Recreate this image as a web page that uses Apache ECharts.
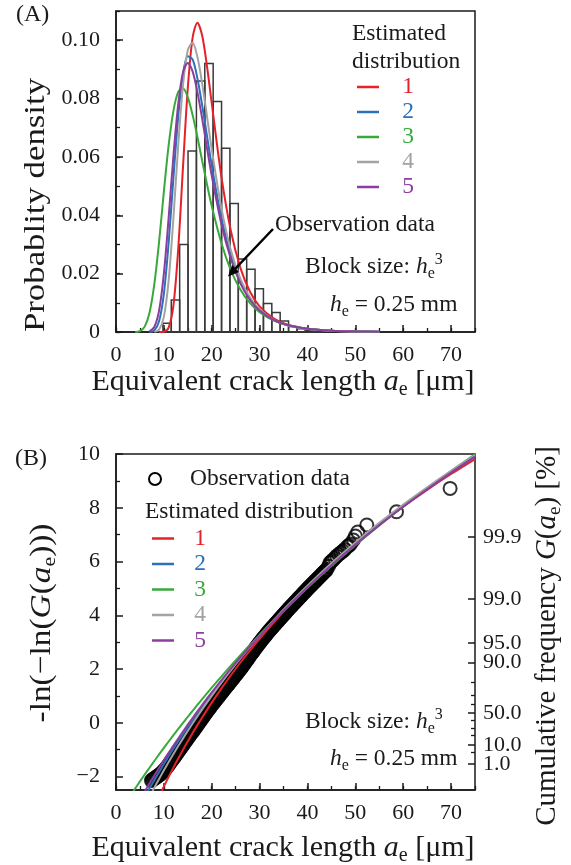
<!DOCTYPE html>
<html>
<head>
<meta charset="utf-8">
<script src="https://cdn.jsdelivr.net/npm/echarts@6/dist/echarts.min.js"></script>
<style>
  html, body { margin: 0; padding: 0; background: #fff; }
  #chart { width: 571px; height: 865px; }
</style>
</head>
<body>
<div id="chart"></div>
<script>
var FONT = 'Liberation Serif';
var INK = '#1a1a1a';

// (A) histogram of observed equivalent crack length: left bin edge and density
var histLeft = [9.8, 11.55, 13.3, 15.05, 16.8, 18.55, 20.3, 22.05, 23.8, 25.55, 27.3, 29.05, 30.8, 32.55, 34.3, 36.05, 37.8, 39.55, 41.3];
var histWidth = 1.75;
var histDensity = [0.003, 0.011, 0.030, 0.062, 0.086, 0.092, 0.079, 0.063, 0.044, 0.025, 0.0215, 0.0148, 0.0098, 0.0067, 0.0038, 0.0019, 0.0011, 0.0006, 0.0003];

// (A) estimated probability densities 1..5, read at pdfX
var pdfX = [4, 5, 6, 7, 8, 9, 10, 11, 12, 13, 14, 15, 16, 17, 18, 19, 20, 22, 24, 26, 28, 30, 33, 36, 40, 45, 50, 55];
var pdf1 = [null, null, null, null, null, 0.0000, 0.0001, 0.0015, 0.0091, 0.0285, 0.0566, 0.0836, 0.1008, 0.1060, 0.1016, 0.0912, 0.0784, 0.0534, 0.0346, 0.0219, 0.0138, 0.0088, 0.0046, 0.0024, 0.0011, 0.00045, 0.00019, 0.00009];
var pdf2 = [null, null, null, 0.00004, 0.00057, 0.0037, 0.0131, 0.0306, 0.0529, 0.0738, 0.0883, 0.0945, 0.0934, 0.0870, 0.0777, 0.0673, 0.0571, 0.0393, 0.0263, 0.0174, 0.0114, 0.0076, 0.0041, 0.0023, 0.0011, 0.00045, 0.0002, 0.00009];
var pdf3 = [0.00003, 0.00033, 0.00185, 0.0066, 0.0163, 0.0309, 0.0481, 0.0640, 0.0758, 0.0823, 0.0834, 0.0804, 0.0744, 0.0669, 0.0587, 0.0507, 0.0432, 0.0306, 0.0211, 0.0145, 0.0099, 0.0068, 0.0039, 0.0022, 0.0011, 0.00046, 0.0002, 0.00009];
var pdf4 = [null, null, null, null, 0.00005, 0.00082, 0.0052, 0.0177, 0.0392, 0.0640, 0.0847, 0.0966, 0.0991, 0.0943, 0.0851, 0.0740, 0.0626, 0.0426, 0.0280, 0.0182, 0.0118, 0.0077, 0.0041, 0.0022, 0.0010, 0.00042, 0.00018, 0.00009];
var pdf5 = [null, null, null, 0.0002, 0.0017, 0.0073, 0.0200, 0.0392, 0.0604, 0.0781, 0.0890, 0.0922, 0.0893, 0.0823, 0.0731, 0.0632, 0.0536, 0.0371, 0.0250, 0.0166, 0.0110, 0.0074, 0.0041, 0.0023, 0.0011, 0.00045, 0.0002, 0.00009];

// (B) reduced variate -ln(-ln G) of estimated distributions 1..5, read at gumX
var gumX = [3, 4, 5, 6, 7, 8, 9, 10, 11, 12, 13, 14, 15, 16, 17, 18, 20, 22, 24, 26, 28, 30, 33, 36, 40, 45, 50, 55, 60, 65, 70, 75];
var gum1 = [null, null, null, null, null, -3.13, -2.743, -2.370, -2.010, -1.663, -1.327, -1.003, -0.688, -0.383, -0.087, 0.200, 0.751, 1.274, 1.770, 2.243, 2.695, 3.127, 3.742, 4.321, 5.045, 5.881, 6.653, 7.370, 8.038, 8.665, 9.255, 9.812];
var gum2 = [null, null, null, -2.757, -2.439, -2.129, -1.827, -1.532, -1.244, -0.962, -0.687, -0.418, -0.155, 0.102, 0.355, 0.602, 1.082, 1.543, 1.988, 2.417, 2.832, 3.233, 3.811, 4.362, 5.061, 5.881, 6.650, 7.373, 8.056, 8.702, 9.317, 9.901];
var gum3 = [-2.71, -2.444, -2.181, -1.925, -1.671, -1.422, -1.176, -0.933, -0.695, -0.460, -0.228, 0, 0.225, 0.447, 0.666, 0.883, 1.306, 1.719, 2.122, 2.515, 2.898, 3.273, 3.818, 4.347, 5.025, 5.835, 6.606, 7.341, 8.045, 8.719, 9.366, 9.989];
var gum4 = [null, null, null, null, -2.751, -2.414, -2.087, -1.769, -1.460, -1.159, -0.865, -0.579, -0.300, -0.027, 0.239, 0.500, 1.003, 1.486, 1.949, 2.394, 2.822, 3.235, 3.828, 4.392, 5.104, 5.935, 6.710, 7.437, 8.120, 8.764, 9.375, 9.955];
var gum5 = [null, null, -2.868, -2.559, -2.257, -1.963, -1.675, -1.393, -1.117, -0.847, -0.583, -0.324, -0.070, 0.179, 0.423, 0.663, 1.129, 1.579, 2.013, 2.434, 2.841, 3.235, 3.805, 4.351, 5.044, 5.861, 6.629, 7.353, 8.039, 8.690, 9.309, 9.900];

// (B) observation data [crack length, reduced variate], read along the dense band and the sparse upper tail
var obsPoints = [
  [7.4, -2.15], [7.6, -2.12], [7.8, -2.10], [8.0, -2.07], [8.2, -2.05], [8.4, -2.02], [8.6, -2.00], [8.8, -1.97], [9.0, -1.95], [9.2, -1.92],
  [9.4, -1.89], [9.6, -1.86], [9.8, -1.82], [10.0, -1.78], [10.2, -1.74], [10.4, -1.70], [10.6, -1.66], [10.8, -1.61], [11.0, -1.56], [11.2, -1.51],
  [11.4, -1.46], [11.6, -1.41], [11.8, -1.36], [12.0, -1.32], [12.2, -1.27], [12.4, -1.22], [12.6, -1.17], [12.8, -1.12], [13.0, -1.07], [13.2, -1.02],
  [13.4, -0.97], [13.6, -0.92], [13.8, -0.87], [14.0, -0.82], [14.2, -0.77], [14.4, -0.72], [14.6, -0.67], [14.8, -0.62], [15.0, -0.57], [15.2, -0.52],
  [15.4, -0.47], [15.6, -0.42], [15.8, -0.37], [16.0, -0.33], [16.2, -0.28], [16.4, -0.23], [16.6, -0.18], [16.8, -0.13], [17.0, -0.08], [17.2, -0.03],
  [17.4, 0.02], [17.6, 0.07], [17.8, 0.12], [18.0, 0.17], [18.2, 0.22], [18.4, 0.27], [18.6, 0.32], [18.8, 0.37], [19.0, 0.42], [19.2, 0.47],
  [19.4, 0.51], [19.6, 0.56], [19.8, 0.61], [20.0, 0.66], [20.2, 0.70], [20.4, 0.75], [20.6, 0.79], [20.8, 0.84], [21.0, 0.88], [21.2, 0.93],
  [21.4, 0.97], [21.6, 1.02], [21.8, 1.06], [22.0, 1.11], [22.2, 1.15], [22.4, 1.20], [22.6, 1.24], [22.8, 1.29], [23.0, 1.33], [23.2, 1.38],
  [23.4, 1.42], [23.6, 1.46], [23.8, 1.51], [24.0, 1.55], [24.2, 1.60], [24.4, 1.64], [24.6, 1.69], [24.8, 1.73], [25.0, 1.78], [25.2, 1.82],
  [25.4, 1.87], [25.6, 1.91], [25.8, 1.96], [26.0, 2.00], [26.2, 2.05], [26.4, 2.10], [26.6, 2.15], [26.8, 2.20], [27.0, 2.25], [27.2, 2.30],
  [27.4, 2.35], [27.6, 2.40], [27.8, 2.45], [28.0, 2.50], [28.2, 2.55], [28.4, 2.60], [28.6, 2.64], [28.8, 2.69], [29.0, 2.74], [29.2, 2.79],
  [29.4, 2.84], [29.6, 2.88], [29.8, 2.93], [30.0, 2.98], [30.2, 3.02], [30.4, 3.07], [30.6, 3.11], [30.8, 3.16], [31.0, 3.20], [31.2, 3.24],
  [31.4, 3.29], [31.6, 3.33], [31.8, 3.38], [32.0, 3.42], [32.2, 3.46], [32.4, 3.50], [32.6, 3.54], [32.8, 3.58], [33.0, 3.62], [33.2, 3.66],
  [33.4, 3.70], [33.6, 3.74], [33.8, 3.78], [34.0, 3.82], [34.2, 3.86], [34.4, 3.90], [34.6, 3.94], [34.8, 3.98], [35.0, 4.02], [35.2, 4.06],
  [35.4, 4.10], [35.6, 4.14], [35.8, 4.18], [36.0, 4.22], [36.2, 4.26], [36.4, 4.30], [36.6, 4.33], [36.8, 4.37], [37.0, 4.41], [37.2, 4.45],
  [37.4, 4.49], [37.6, 4.52], [37.8, 4.56], [38.0, 4.60], [38.2, 4.64], [38.4, 4.68], [38.6, 4.71], [38.8, 4.75], [39.0, 4.79], [39.2, 4.83],
  [39.4, 4.87], [39.6, 4.90], [39.8, 4.94], [40.0, 4.98], [40.2, 5.02], [40.4, 5.05], [40.6, 5.09], [40.8, 5.12], [41.0, 5.16], [41.2, 5.20],
  [41.4, 5.23], [41.6, 5.27], [41.8, 5.30], [42.0, 5.34], [42.2, 5.38], [42.4, 5.41], [42.6, 5.45], [42.8, 5.48], [43.0, 5.52], [43.2, 5.56],
  [43.4, 5.59], [43.6, 5.63], [43.8, 5.66], [44.0, 5.70], [44.4, 5.82], [44.7, 5.95], [45.0, 6.00], [45.3, 6.05], [45.7, 6.12], [46.1, 6.20],
  [46.5, 6.26], [47.0, 6.33], [47.4, 6.39], [47.8, 6.45], [48.3, 6.55], [48.7, 6.60], [49.0, 6.65], [49.6, 6.80], [50.0, 6.95], [50.5, 7.10],
  [52.4, 7.36], [58.6, 7.85], [69.8, 8.72]
];

// (B) right axis: cumulative frequency in %
var freqLabels = ['99.9', '99.0', '95.0', '90.0', '50.0', '10.0'];
var freqLowLabel = '1.0';
var freqMinor = [80, 70, 60, 40, 30, 20, 5];

var seriesNames = ['1', '2', '3', '4', '5'];
var seriesColors = ['#e3222a', '#2b70b9', '#3aa83a', '#a3a3a3', '#8a3e9d'];

function redVar(p) { return -Math.log(-Math.log(p / 100)); }
var freqPos = freqLabels.map(function (s) { return redVar(parseFloat(s)); });
var freqLowPos = redVar(parseFloat(freqLowLabel));
var freqMinorPos = freqMinor.map(redVar);

function pairs(xs, ys) {
  var out = [];
  for (var i = 0; i < xs.length; i++) {
    if (ys[i] !== null) out.push([xs[i], ys[i]]);
  }
  return out;
}

var tickLabel = { fontFamily: FONT, fontSize: 22, color: INK };

function xMajor(g) {
  return {
    type: 'value', gridIndex: g, position: 'bottom', min: 0, max: 75, interval: 10,
    axisLine: { show: true, onZero: false, lineStyle: { color: INK, width: 1.5 } },
    axisTick: { inside: true, length: 7, lineStyle: { color: INK, width: 1.5 } },
    axisLabel: Object.assign({ margin: 12, showMaxLabel: false,
      formatter: function (v) { return (v % 10 === 0 && v < 75) ? String(v) : ''; } }, tickLabel),
    splitLine: { show: false }
  };
}
function xMinor(g) {
  return {
    type: 'value', gridIndex: g, position: 'bottom', min: 0, max: 75, interval: 5,
    axisLine: { show: false, onZero: false }, axisLabel: { show: false }, splitLine: { show: false },
    axisTick: { inside: true, length: 4, lineStyle: { color: INK, width: 1.3 } }
  };
}

var option = {
  animation: false,
  backgroundColor: '#fff',
  grid: [
    { left: 116, top: 11, width: 359, height: 321, show: true, borderColor: INK, borderWidth: 1.5 },
    { left: 116, top: 454, width: 359, height: 336, show: true, borderColor: INK, borderWidth: 1.5 }
  ],
  xAxis: [xMajor(0), xMinor(0), xMajor(1), xMinor(1)],
  yAxis: [
    {
      type: 'value', gridIndex: 0, position: 'left', min: 0, max: 0.11, interval: 0.02,
      axisLine: { show: true, onZero: false, lineStyle: { color: INK, width: 1.5 } },
      axisTick: { inside: true, length: 7, lineStyle: { color: INK, width: 1.5 } },
      axisLabel: Object.assign({ margin: 16, showMaxLabel: false,
        formatter: function (v) { return v === 0 ? '0' : (v > 0.105 ? '' : v.toFixed(2)); } }, tickLabel),
      splitLine: { show: false }
    },
    {
      type: 'value', gridIndex: 0, position: 'left', min: 0, max: 0.11, interval: 0.01,
      axisLine: { show: false, onZero: false }, axisLabel: { show: false }, splitLine: { show: false },
      axisTick: { inside: true, length: 4, lineStyle: { color: INK, width: 1.3 } }
    },
    {
      type: 'value', gridIndex: 1, position: 'left', min: -2.5, max: 10,
      axisLine: { show: true, onZero: false, lineStyle: { color: INK, width: 1.5 } },
      axisTick: { inside: true, length: 7, customValues: [-2, 0, 2, 4, 6, 8, 10], lineStyle: { color: INK, width: 1.5 } },
      axisLabel: Object.assign({ margin: 16, customValues: [-2, 0, 2, 4, 6, 8, 10], showMinLabel: true, showMaxLabel: true,
        formatter: function (v) { return v < 0 ? '\u2212' + Math.abs(v) : String(v); } }, tickLabel),
      splitLine: { show: false }
    },
    {
      type: 'value', gridIndex: 1, position: 'left', min: -2.5, max: 10,
      axisLine: { show: false, onZero: false }, axisLabel: { show: false }, splitLine: { show: false },
      axisTick: { inside: true, length: 4, customValues: [-1, 1, 3, 5, 7, 9], lineStyle: { color: INK, width: 1.3 } }
    },
    {
      type: 'value', gridIndex: 1, position: 'right', min: -2.5, max: 10,
      axisLine: { show: false, onZero: false }, splitLine: { show: false },
      axisTick: { show: true, inside: true, length: 7, customValues: freqPos.concat([freqLowPos]), lineStyle: { color: INK, width: 1.5 } },
      axisLabel: Object.assign({ margin: 8, customValues: freqPos, showMinLabel: true, showMaxLabel: true,
        formatter: function (v) {
          for (var i = 0; i < freqPos.length; i++) {
            if (Math.abs(freqPos[i] - v) < 1e-6) return freqLabels[i];
          }
          return '';
        } }, tickLabel)
    },
    {
      type: 'value', gridIndex: 1, position: 'right', min: -2.5, max: 10,
      axisLine: { show: false, onZero: false }, splitLine: { show: false },
      axisTick: { show: true, inside: true, length: 4, customValues: freqMinorPos, lineStyle: { color: INK, width: 1.3 } },
      axisLabel: Object.assign({ margin: 8, customValues: [freqLowPos], showMinLabel: true, showMaxLabel: true,
        formatter: function () { return freqLowLabel; } }, tickLabel)
    }
  ],
  series: []
};

// histogram bars
option.series.push({
  type: 'custom', xAxisIndex: 0, yAxisIndex: 0, silent: true, z: 1,
  data: histLeft.map(function (l, i) { return [l, l + histWidth, histDensity[i]]; }),
  renderItem: function (params, api) {
    var p0 = api.coord([api.value(0), api.value(2)]);
    var p1 = api.coord([api.value(1), 0]);
    return {
      type: 'rect',
      shape: { x: p0[0], y: p0[1], width: p1[0] - p0[0], height: p1[1] - p0[1] },
      style: { fill: 'none', stroke: '#3a3a3a', lineWidth: 1.5 }
    };
  }
});

[pdf1, pdf2, pdf3, pdf4, pdf5].forEach(function (arr, k) {
  option.series.push({
    type: 'line', name: 'pdf' + seriesNames[k], xAxisIndex: 0, yAxisIndex: 0, z: 3,
    data: pairs(pdfX, arr), smooth: 0.3, showSymbol: false, silent: true,
    lineStyle: { color: seriesColors[k], width: 2 }
  });
});

option.series.push({
  type: 'scatter', xAxisIndex: 2, yAxisIndex: 2, z: 2, silent: true,
  data: obsPoints, symbol: 'circle', symbolSize: 13,
  itemStyle: { color: 'rgba(0,0,0,0)', borderColor: '#000', borderWidth: 2 }
});

[gum1, gum2, gum3, gum4, gum5].forEach(function (arr, k) {
  option.series.push({
    type: 'line', name: 'gum' + seriesNames[k], xAxisIndex: 2, yAxisIndex: 2, z: 3,
    data: pairs(gumX, arr), smooth: 0.3, showSymbol: false, silent: true, clip: true,
    lineStyle: { color: seriesColors[k], width: 2 }
  });
});

// ---- text and legends ----
function rich(s) {
  var sub = Math.round(s * 0.66);
  return {
    i: { fontFamily: FONT, fontSize: s, fontStyle: 'italic', lineHeight: s + 6 },
    sub: { fontFamily: FONT, fontSize: sub, lineHeight: sub, verticalAlign: 'bottom' },
    sup: { fontFamily: FONT, fontSize: sub, lineHeight: sub, verticalAlign: 'top' }
  };
}
function text(x, y, str, size, opt) {
  opt = opt || {};
  return {
    type: 'text', x: x, y: y, rotation: opt.rotation || 0, scaleX: opt.stretch || 1, silent: true, z: 10,
    style: {
      text: str, fontFamily: FONT, fontSize: size, lineHeight: size + 6,
      fill: opt.color || INK, align: opt.align || 'left', verticalAlign: 'middle', rich: rich(size)
    }
  };
}
function seg(x1, y1, x2, y2, color, w) {
  return { type: 'line', silent: true, z: 10, shape: { x1: x1, y1: y1, x2: x2, y2: y2 },
           style: { stroke: color, lineWidth: w } };
}

var g = [];
// panel letters
g.push(text(16, 15, '(A)', 24));
g.push(text(15, 459, '(B)', 24));
// axis titles
g.push(text(283, 382, 'Equivalent crack length {i|a}{sub|e} [\u03bcm]', 30, { align: 'center' }));
g.push(text(283, 848, 'Equivalent crack length {i|a}{sub|e} [\u03bcm]', 30, { align: 'center' }));
g.push(text(36, 205, 'Probablity density', 29, { align: 'center', rotation: Math.PI / 2, stretch: 1.2 }));
g.push(text(42, 623, '-ln(\u2212ln({i|G}({i|a}{sub|e})))', 29, { align: 'center', rotation: Math.PI / 2, stretch: 1.15 }));
g.push(text(547, 636, 'Cumulative frequency {i|G}({i|a}{sub|e}) [%]', 29, { align: 'center', rotation: Math.PI / 2 }));

// panel A legend
g.push(text(352, 34, 'Estimated', 23.5));
g.push(text(352, 62, 'distribution', 23.5));
var legAy = [87, 112, 137, 162, 187];
seriesNames.forEach(function (n, k) {
  g.push(seg(357, legAy[k], 379, legAy[k], seriesColors[k], 2.5));
  g.push(text(408, legAy[k], n, 23.5, { align: 'center', color: seriesColors[k] }));
});
// panel A annotations
g.push(text(275, 225, 'Observation data', 23.5));
g.push(seg(273, 229, 235, 269, '#000', 2.5));
g.push({ type: 'polygon', silent: true, z: 10, shape: { points: [[228, 276.5], [239, 272], [232, 265]] }, style: { fill: '#000' } });
g.push(text(305, 267, 'Block size: {i|h}{sub|e}{sup|3}', 23.5));
g.push(text(330, 305, '{i|h}{sub|e} = 0.25 mm', 23.5));

// panel B legend
g.push({ type: 'circle', silent: true, z: 10, shape: { cx: 155, cy: 479, r: 6 }, style: { fill: 'none', stroke: '#000', lineWidth: 2 } });
g.push(text(190, 479, 'Observation data', 23.5));
g.push(text(145, 512, 'Estimated distribution', 23.5));
var legBy = [538.5, 564, 589.5, 615, 640.5];
seriesNames.forEach(function (n, k) {
  g.push(seg(152, legBy[k], 174, legBy[k], seriesColors[k], 2.5));
  g.push(text(200, legBy[k], n, 23.5, { align: 'center', color: seriesColors[k] }));
});
g.push(text(305, 722, 'Block size: {i|h}{sub|e}{sup|3}', 23.5));
g.push(text(330, 759, '{i|h}{sub|e} = 0.25 mm', 23.5));

option.graphic = { elements: g };

var chart = echarts.init(document.getElementById('chart'));
chart.setOption(option);
</script>
</body>
</html>
